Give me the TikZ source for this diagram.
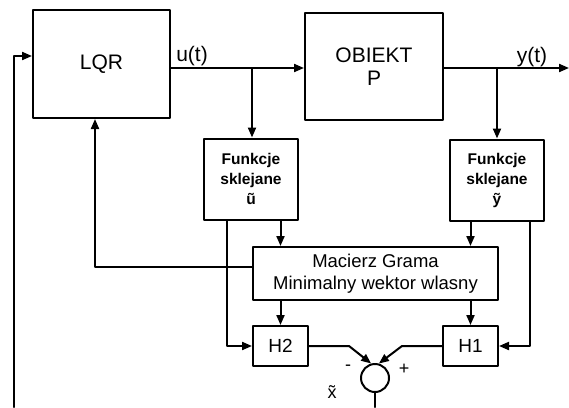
\documentclass[tikz,border=0pt]{standalone}
\usepackage{fontspec}
\setmainfont{Liberation Sans}
\usetikzlibrary{arrows.meta,calc,positioning}
\tikzset{
  blok/.style={draw, line width=2pt, inner sep=2pt, align=center},
  fbox/.style={blok, minimum width=94pt, minimum height=81pt,
    font=\fontsize{15.5}{20}\selectfont\bfseries},
  hbox/.style={blok, minimum width=55pt, minimum height=40pt,
    font=\fontsize{19}{22}\selectfont},
  arr/.style={-{Triangle[length=10pt,width=8pt]}},
  every picture/.style={line cap=round, line join=round}
}

\begin{document}
\begin{tikzpicture}[x=1pt,y=-1pt,line width=2pt,font=\fontsize{21}{23}\selectfont]
  \useasboundingbox (0,0) rectangle (569,407);
  % bloki
  \node[blok,minimum width=137pt,minimum height=108pt] (lqr) at (101.5,64) {LQR};
  \node[blok,minimum width=138pt,minimum height=107pt] (obj) at (374,66.5) {OBIEKT\\P};
  \node[fbox] (fu) at (251,179) {Funkcje\\sklejane\\ũ};
  \node[fbox] (fy) at (497,180) {Funkcje\\sklejane\\ỹ};
  \node[blok,minimum width=245pt,minimum height=53pt,font=\fontsize{18.5}{22}\selectfont]
    (gram) at (375.5,273.5) {Macierz Grama\\Minimalny wektor wlasny};
  \node[hbox] (h2) at (280.5,346) {H2};
  \node[hbox] (h1) at (470.5,346) {H1};
  \node[circle,draw,minimum size=28pt,inner sep=0pt] (sum) at (375,378) {};
  \coordinate (ub) at (252,68);
  \coordinate (yb) at (497,68);
  \coordinate (yout) at (569,68);
  \coordinate (xout) at (375,407);
  \coordinate (fb) at (14,407);
  % sygnaly
  \draw[arr] (lqr.east |- ub) -- (obj.west |- ub);
  \draw[arr] (obj.east |- yb) -- (yout);
  \draw[arr] (ub) -- (fu.north -| ub);
  \draw[arr] (yb) -- (fy.north -| yb);
  \draw[arr] (h2 |- fu.south) -- (h2 |- gram.north);
  \draw[arr] (h1 |- fy.south) -- (h1 |- gram.north);
  \draw[arr] (h2 |- gram.south) -- (h2.north);
  \draw[arr] (h1 |- gram.south) -- (h1.north);
  \draw[arr] ([xshift=-24pt]fu.south) |- (h2.west);
  \draw[arr] ([xshift=33pt]fy.south) |- (h1.east);
  \draw[arr] ([yshift=6.5pt]gram.west) -| ([xshift=-6.5pt]lqr.south);
  \draw[arr] (h2.east) -- ++(40,0) -- (sum.105);
  \draw[arr] (h1.west) -- ++(-40,0) -- (sum.75);
  \draw (sum.south) -- (xout);
  \draw[arr] (fb) |- ([yshift=8pt]lqr.west);
  % etykiety
  \node (ul) at (192,56) {u(t)};
  \node (yl) at (532,57) {y(t)};
  \node[font=\fontsize{18}{20}\selectfont] (ml) at (348,368) {-};
  \node[font=\fontsize{18}{20}\selectfont] (pl) at (404,369) {+};
  \node[font=\fontsize{18}{20}\selectfont] (xl) at (332,392) {\~{x}};
\end{tikzpicture}
\end{document}
